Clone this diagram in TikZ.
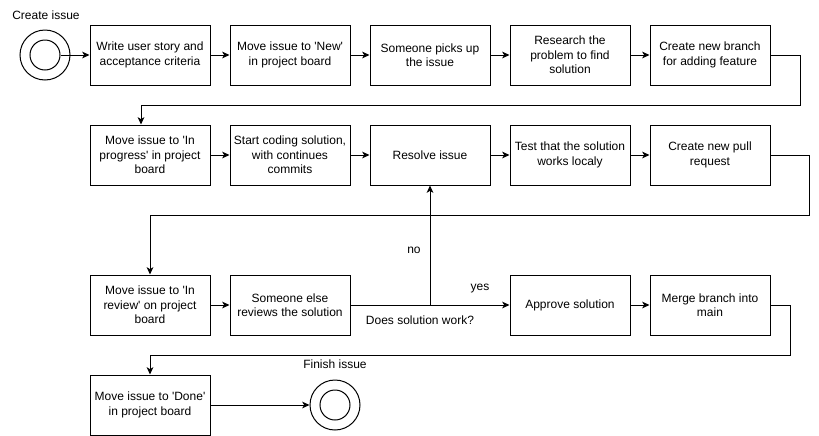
\documentclass[tikz,border=0pt]{standalone}
\usepackage{fontspec}
\setmainfont{Liberation Sans}[Ligatures=TeXOff]
\usetikzlibrary{arrows.meta}
\begin{document}
\begin{tikzpicture}[x=0.75pt,y=-0.75pt,
  box/.style={draw, line width=0.75pt, minimum width=90pt, minimum height=45pt,
    inner sep=0pt, align=center, font=\fontsize{9}{10.8}\selectfont},
  lbl/.style={font=\fontsize{9}{10.8}\selectfont, inner sep=0pt},
  state/.style={draw, circle, line width=0.75pt, inner sep=0pt},
  conn/.style={line width=0.75pt, -{Stealth[length=5.5pt,width=5pt,inset=1.5pt]}}]
\useasboundingbox (0,0) rectangle (819,436);

% start
\node[state, minimum size=37.5pt] (start) at (45,55) {};
\node[state, minimum size=22.5pt] (startin) at (45,55) {};
\node[lbl] (startlbl) at (46,15) {Create issue};

% row 1
\node[box] (b1) at (150,55) {Write user story and\\acceptance criteria};
\node[box] (b2) at (290,55) {Move issue to 'New'\\in project board};
\node[box] (b3) at (430,55) {Someone picks up\\the issue};
\node[box] (b4) at (570,55) {Research the\\problem to find\\solution};
\node[box] (b5) at (710,55) {Create new branch\\for adding feature};

% row 2
\node[box] (b6) at (150,155) {Move issue to 'In\\progress' in project\\board};
\node[box] (b7) at (290,155) {Start coding solution,\\with continues\\commits};
\node[box] (b8) at (430,155) {Resolve issue};
\node[box] (b9) at (570,155) {Test that the solution\\works localy};
\node[box] (b10) at (710,155) {Create new pull\\request};

% row 3
\node[box] (b11) at (150,305) {Move issue to 'In\\review' on project\\board};
\node[box] (b12) at (290,305) {Someone else\\reviews the solution};
\node[box] (b13) at (570,305) {Approve solution};
\node[box] (b14) at (710,305) {Merge branch into\\main};

% row 4
\node[box] (b16) at (150,405) {Move issue to 'Done'\\in project board};
\node[state, minimum size=37.5pt] (fin) at (335,405) {};
\node[state, minimum size=22.5pt] (finin) at (335,405) {};
\node[lbl] (finlbl) at (335,364) {Finish issue};

% labels
\node[lbl] (q) at (420,320) {Does solution work?};
\node[lbl] (yes) at (480,289) {yes};
\node[lbl] (no) at (414,250) {no};

% helper coordinates
\coordinate (c1) at (800,105);
\coordinate (c2) at (809,215);
\coordinate (c3) at (790,355);
\coordinate (dec) at (430,305);

% connectors
\draw[conn] (startin.east) -- (b1.west);
\draw[conn] (b1) -- (b2);
\draw[conn] (b2) -- (b3);
\draw[conn] (b3) -- (b4);
\draw[conn] (b4) -- (b5);
\draw[conn] (b5.east) -| (c1) -| ([xshift=-6.75pt]b6.north);
\draw[conn] (b6) -- (b7);
\draw[conn] (b7) -- (b8);
\draw[conn] (b8) -- (b9);
\draw[conn] (b9) -- (b10);
\draw[conn] (b10.east) -| (c2) -| (b11.north);
\draw[conn] (b11) -- (b12);
\draw[conn] (b12) -- (b13);
\draw[conn] (dec) -- (b8.south);
\draw[conn] (b13) -- (b14);
\draw[conn] (b14.east) -| (c3) -| (b16.north);
\draw[conn] (b16) -- (fin.west);
\end{tikzpicture}
\end{document}
